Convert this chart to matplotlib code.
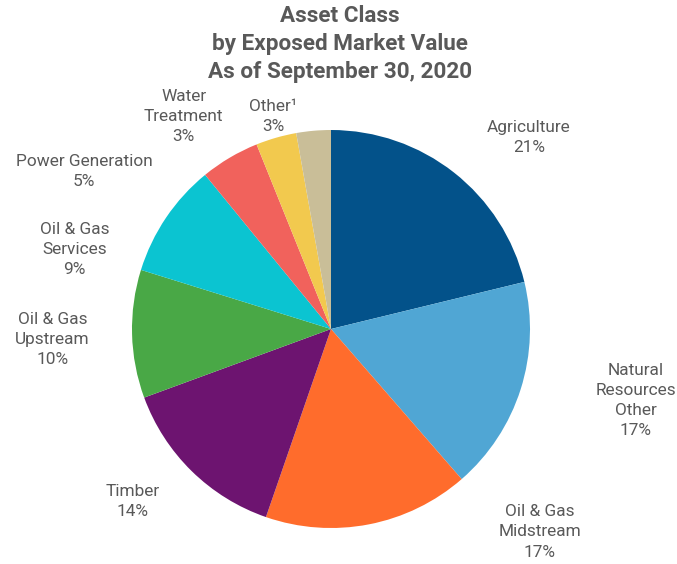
import matplotlib
matplotlib.use("Agg")
import matplotlib.pyplot as plt

plt.rcParams['font.family'] = ['Roboto', 'DejaVu Sans']

# exposure by asset class, percent
labels = ["Agriculture", "Natural\nResources\nOther", "Oil & Gas\nMidstream", "Timber",
          "Oil & Gas\nUpstream", "Oil & Gas\nServices", "Power Generation",
          "Water\nTreatment", "Other\u00b9"]
values = [21.2, 17.4, 16.7, 14.1, 10.4, 9.3, 4.8, 3.3, 2.8]
colors = ["#03528A", "#50A6D4", "#FF6C2C", "#6D1470", "#49A846",
          "#0BC4D1", "#F1625C", "#F2C94E", "#C9BE98"]

# label centres, in pie-radius units
label_pos = [(0.995, 0.96), (1.53, -0.36), (1.05, -1.02), (-0.995, -0.865),
             (-1.40, -0.055), (-1.29, 0.40), (-1.24, 0.79), (-0.74, 1.07), (-0.29, 1.07)]

txt = "#595959"
R = 199.0
cx, cy = 331, 329
W, H = 677, 564

fig = plt.figure(figsize=(W / 100, H / 100), dpi=100)
ax = fig.add_axes([0, 0, 1, 1])
ax.pie(values, colors=colors, startangle=90, counterclock=False, radius=1,
       wedgeprops=dict(linewidth=0))
for lab, v, (x, y) in zip(labels, values, label_pos):
    ax.text(x, y, f"{lab}\n{round(v)}%", ha="center", va="center", fontsize=12.4,
            color=txt, linespacing=1.42)

ax.set_xlim(-cx / R, (W - cx) / R)
ax.set_ylim(-(H - cy) / R, cy / R)
ax.axis("off")

fig.text(340 / W, 1 - 44 / H, "Asset Class\nby Exposed Market Value\nAs of September 30, 2020",
         ha="center", va="center", fontsize=16.2, fontweight="bold", color=txt, linespacing=1.33)

fig.savefig("out.png", dpi=100)
